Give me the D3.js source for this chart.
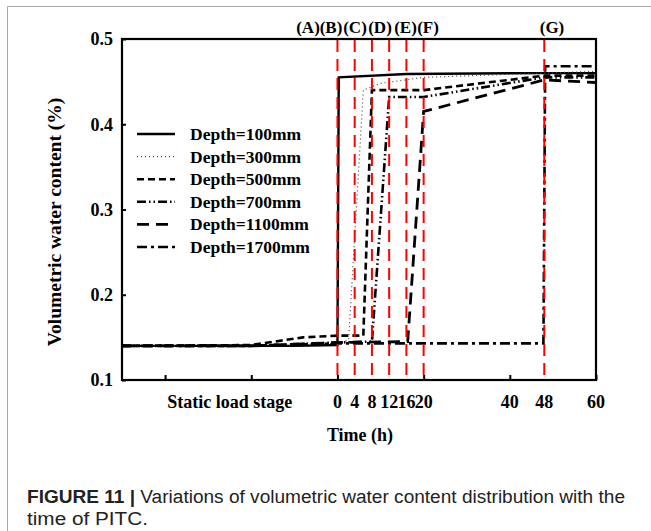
<!DOCTYPE html>
<html><head><meta charset="utf-8">
<script src="https://cdn.jsdelivr.net/npm/d3@7"></script>
<style>html,body{margin:0;padding:0;background:#fff;}svg{display:block;}</style>
</head><body>
<svg id="c" width="651" height="531"></svg>
<script>
// ---- data ----
const seriesNames = ["Depth=100mm","Depth=300mm","Depth=500mm","Depth=700mm","Depth=1100mm","Depth=1700mm"];
const d100  = [[-50,0.140],[-10,0.140],[0,0.141],[0.3,0.455],[16,0.459],[48,0.460],[60,0.460]];
const d300  = [[-50,0.140],[-20,0.140],[0,0.143],[2.6,0.147],[6,0.440],[10,0.448],[20,0.455],[48,0.460],[60,0.462]];
const d500  = [[-50,0.140],[-20,0.141],[-8,0.150],[0,0.152],[6,0.152],[8,0.440],[20,0.440],[48,0.457],[60,0.457]];
const d700  = [[-50,0.140],[-20,0.140],[0,0.144],[8,0.145],[12,0.432],[20,0.432],[48,0.455],[60,0.455]];
const d1100 = [[-50,0.140],[-20,0.140],[0,0.144],[16.3,0.145],[20,0.415],[48,0.452],[60,0.449]];
const d1700 = [[-50,0.140],[-20,0.140],[0,0.143],[47.8,0.143],[48.2,0.468],[60,0.468]];
const seriesData = [d100,d300,d500,d700,d1100,d1700];
const stageHours = [0,4,8,12,16,20,48];
const stageLabels = ["(A)","(B)","(C)","(D)","(E)","(F)","(G)"];
const xTickValues = [-40,-20,0,20,40,60];
const xLabelValues = [0,4,8,12,16,20,40,48,60];
const xLabelTexts = ["0","4","8","12","16","20","40","48","60"];
const yTickValues = [0.1,0.2,0.3,0.4,0.5];

// ---- styles ----
const styles = [
  {dash:null, w:2.4, c:"#000"},
  {dash:"1,3", w:1.2, c:"#444"},
  {dash:"7,4", w:2.6, c:"#000"},
  {dash:"9,3,1.5,3,1.5,3", w:2.6, c:"#000"},
  {dash:"12,7", w:2.8, c:"#000"},
  {dash:"10,4,3,4", w:2.6, c:"#000"}
];
const serif = "'Liberation Serif','Times New Roman',serif";

const svg = d3.select("#c");
svg.append("rect").attr("width",651).attr("height",531).attr("fill","#fff");
// figure frame
svg.append("path").attr("d","M7.5,531V6.5H651").attr("fill","none").attr("stroke","#aaa").attr("stroke-width",1);

const x = d3.scaleLinear().domain([-50,60]).range([122,596]);
const y = d3.scaleLinear().domain([0.1,0.5]).range([380,39]);

// series
const line = d3.line().x(d=>x(d[0])).y(d=>y(d[1]));
seriesData.forEach((s,i)=>{
  svg.append("path").attr("d",line(s)).attr("fill","none")
    .attr("stroke",styles[i].c).attr("stroke-width",styles[i].w)
    .attr("stroke-dasharray",styles[i].dash);
});

// red stage lines
svg.selectAll(".stage").data(stageHours).enter().append("line")
  .attr("x1",d=>x(d)).attr("x2",d=>x(d)).attr("y1",y(0.5)+1).attr("y2",y(0.1))
  .attr("stroke","#f00").attr("stroke-width",2).attr("stroke-dasharray","12,7");

// axes
const gy = svg.append("g").attr("transform",`translate(${x(-50)},0)`)
  .call(d3.axisLeft(y).tickValues(yTickValues).tickSizeInner(-4).tickSizeOuter(0).tickPadding(9).tickFormat(d3.format(".1f")));
gy.select(".domain").remove();
gy.selectAll("line").attr("stroke","#000").attr("stroke-width",2);
gy.selectAll("text").attr("font-family",serif).attr("font-weight","bold").attr("font-size",18).attr("fill","#000").attr("dy","0.32em");

const gx = svg.append("g").attr("transform",`translate(0,${y(0.1)})`)
  .call(d3.axisBottom(x).tickValues(xTickValues).tickSizeInner(-5).tickSizeOuter(0).tickFormat(""));
gx.select(".domain").remove();
gx.selectAll("line").attr("stroke","#000").attr("stroke-width",2);

// plot frame
svg.append("rect").attr("x",x(-50)).attr("y",y(0.5)).attr("width",x(60)-x(-50)).attr("height",y(0.1)-y(0.5))
  .attr("fill","none").attr("stroke","#000").attr("stroke-width",2.2);

// x labels
svg.selectAll(".xl").data(xLabelValues).enter().append("text")
  .attr("x",d=>x(d)).attr("y",408).attr("text-anchor","middle")
  .attr("font-family",serif).attr("font-weight","bold").attr("font-size",18)
  .text((d,i)=>xLabelTexts[i]);
svg.append("text").attr("x",x(-25)).attr("y",408).attr("text-anchor","middle")
  .attr("font-family",serif).attr("font-weight","bold").attr("font-size",18).text("Static load stage");
svg.append("text").attr("x",360).attr("y",441).attr("text-anchor","middle")
  .attr("font-family",serif).attr("font-weight","bold").attr("font-size",18).text("Time (h)");

// y label
svg.append("text").attr("transform","translate(61,222) rotate(-90)").attr("text-anchor","middle")
  .attr("font-family",serif).attr("font-weight","bold").attr("font-size",19.5).text("Volumetric water content (%)");

// stage letters
const stageLabelX = [308,331,355,380,405.5,428,552];
svg.selectAll(".sl").data(stageLabels).enter().append("text")
  .attr("x",(d,i)=>stageLabelX[i]).attr("y",33).attr("text-anchor","middle")
  .attr("font-family",serif).attr("font-weight","bold").attr("font-size",17).text(d=>d);

// legend
seriesNames.forEach((n,i)=>{
  const yy = 134 + i*22.6;
  svg.append("line").attr("x1",137).attr("x2",175).attr("y1",yy).attr("y2",yy)
    .attr("stroke",styles[i].c).attr("stroke-width",styles[i].w).attr("stroke-dasharray",styles[i].dash);
  svg.append("text").attr("x",190).attr("y",yy+6).attr("font-family",serif).attr("font-weight","bold")
    .attr("font-size",17.5).text(n);
});

// caption
const cap = "'Liberation Sans Narrow','Liberation Sans',Arial,sans-serif";
const t1 = svg.append("text").attr("x",27).attr("y",503).attr("font-family",cap).attr("font-size",18).attr("fill","#222")
  .attr("textLength",598).attr("lengthAdjust","spacingAndGlyphs");
t1.append("tspan").attr("font-weight","bold").text("FIGURE 11 | ");
t1.append("tspan").text("Variations of volumetric water content distribution with the");
svg.append("text").attr("x",27).attr("y",525).attr("font-family",cap).attr("font-size",18).attr("fill","#222")
  .attr("textLength",121).attr("lengthAdjust","spacingAndGlyphs")
  .text("time of PITC.");
</script>
</body></html>
